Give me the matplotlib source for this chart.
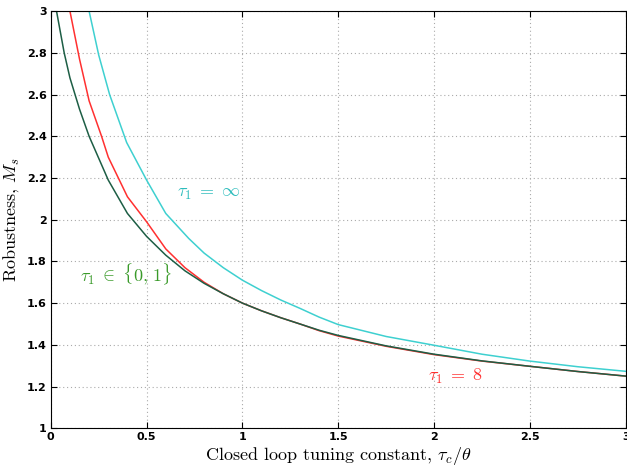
import matplotlib.pyplot as plt

# closed loop tuning constant tau_c/theta
x_green = [0.03, 0.07, 0.1, 0.15, 0.2, 0.3, 0.4, 0.5, 0.6, 0.7, 0.8, 0.9, 1.0, 1.1, 1.2, 1.3, 1.4,
           1.5, 1.75, 2.0, 2.25, 2.5, 2.75, 3.0]
ms_green = [3.0, 2.80, 2.68, 2.53, 2.40, 2.19, 2.03, 1.92, 1.83, 1.755, 1.695, 1.645, 1.60, 1.563,
            1.53, 1.50, 1.47, 1.445, 1.395, 1.355, 1.323, 1.297, 1.272, 1.25]

x_red = [0.10, 0.15, 0.2, 0.265, 0.3, 0.4, 0.5, 0.6, 0.7, 0.8, 0.9, 1.0, 1.1, 1.2, 1.3, 1.4,
         1.5, 1.75, 2.0, 2.25, 2.5, 2.75, 3.0]
ms_red = [3.0, 2.77, 2.57, 2.40, 2.30, 2.11, 1.99, 1.86, 1.77, 1.70, 1.645, 1.60, 1.563,
          1.53, 1.50, 1.468, 1.442, 1.393, 1.353, 1.322, 1.297, 1.272, 1.25]

x_cyan = [0.20, 0.25, 0.307, 0.396, 0.5, 0.6, 0.72, 0.8, 0.9, 1.0, 1.1, 1.2, 1.3, 1.4, 1.5,
          1.75, 2.0, 2.25, 2.5, 2.75, 3.0]
ms_cyan = [3.0, 2.79, 2.60, 2.37, 2.19, 2.03, 1.91, 1.84, 1.77, 1.71, 1.66, 1.615, 1.575, 1.533,
           1.497, 1.44, 1.398, 1.355, 1.322, 1.295, 1.273]

plt.rcParams["mathtext.fontset"] = "cm"

fig = plt.figure(figsize=(6.27, 4.67), dpi=100)
ax = fig.add_axes([0.081, 0.083, 0.917, 0.893])

ax.plot(x_cyan, ms_cyan, color="#3ed0d0", lw=1.1)
ax.plot(x_red, ms_red, color="#ff3030", lw=1.1)
ax.plot(x_green, ms_green, color="#1d5e45", lw=1.1)

ax.text(0.66, 2.13, r"$\tau_1\;=\;\infty$", color="#2cbcbc", fontsize=13, va="center")
ax.text(0.15, 1.74, r"$\tau_1\;\in\;\{0,\,1\}$", color="#3a9a2a", fontsize=13, va="center")
ax.text(1.97, 1.25, r"$\tau_1\;=\;8$", color="#ff3030", fontsize=13, va="center")

ax.set_xlim(0, 3)
ax.set_ylim(1, 3)
ax.set_xticks([0, 0.5, 1, 1.5, 2, 2.5, 3])
ax.set_xticklabels(["0", "0.5", "1", "1.5", "2", "2.5", "3"])
ax.set_yticks([1, 1.2, 1.4, 1.6, 1.8, 2, 2.2, 2.4, 2.6, 2.8, 3])
ax.set_yticklabels(["1", "1.2", "1.4", "1.6", "1.8", "2", "2.2", "2.4", "2.6", "2.8", "3"])
ax.tick_params(direction="in", top=True, right=True, labelsize=8, length=4, pad=3)
for lab in ax.get_xticklabels() + ax.get_yticklabels():
    lab.set_fontweight("bold")
ax.grid(True, ls=(0, (1, 2.5)), color="#aaaaaa", lw=0.8)

ax.set_xlabel(r"Closed loop tuning constant, $\tau_c/\theta$", fontsize=13, family="cmr10", labelpad=2)
ax.set_ylabel(r"Robustness, $M_s$", fontsize=13, family="cmr10", labelpad=4)

fig.savefig("out.png", dpi=100)
